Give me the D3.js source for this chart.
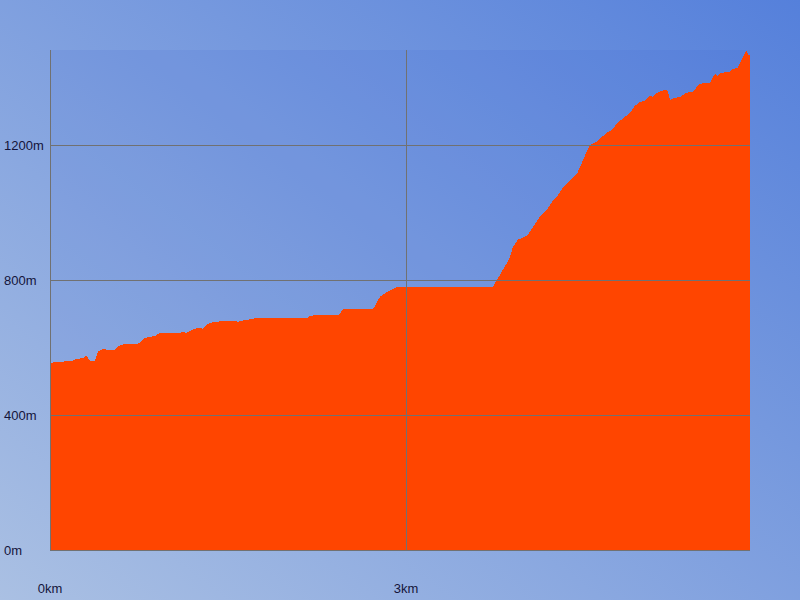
<!DOCTYPE html>
<html>
<head>
<meta charset="utf-8">
<script src="https://cdn.jsdelivr.net/npm/d3@7"></script>
<style>
	html, body { margin: 0; padding: 0; }
	svg { display: block; }
	.tick-label { font-family: "Liberation Sans", Arial, sans-serif; font-size: 13px; fill: #14143a; }
</style>
</head>
<body>
<svg id="chart" width="800" height="600"></svg>
<script>
"use strict";

// distance along the track (km)
var distKm = [
	0.000, 0.059, 0.185, 0.211, 0.278, 0.303, 0.320, 0.337, 0.379, 0.404,
	0.447, 0.480, 0.548, 0.590, 0.632, 0.733, 0.758, 0.801, 0.885, 0.927,
	1.095, 1.121, 1.146, 1.180, 1.222, 1.256, 1.289, 1.315, 1.348, 1.416,
	1.458, 1.559, 1.584, 1.618, 1.652, 1.694, 1.736, 2.166, 2.191, 2.242,
	2.435, 2.452, 2.477, 2.722, 2.739, 2.756, 2.781, 2.806, 2.840, 2.873,
	2.907, 2.932, 3.733, 3.750, 3.767, 3.792, 3.826, 3.851, 3.876, 3.901,
	3.944, 4.028, 4.070, 4.129, 4.188, 4.230, 4.272, 4.323, 4.382, 4.441,
	4.483, 4.517, 4.550, 4.593, 4.652, 4.694, 4.736, 4.769, 4.803, 4.845,
	4.888, 4.930, 4.972, 5.014, 5.056, 5.081, 5.115, 5.157, 5.191, 5.208,
	5.225, 5.258, 5.309, 5.359, 5.418, 5.452, 5.477, 5.562, 5.587, 5.612,
	5.629, 5.646, 5.730, 5.755, 5.797, 5.814, 5.840, 5.857, 5.873, 5.882,
	5.899
];

// elevation (m)
var elevM = [
	554, 557, 560, 564, 569, 575, 569, 560, 560, 587,
	596, 593, 593, 607, 610, 610, 614, 628, 634, 643,
	643, 646, 643, 649, 655, 658, 655, 667, 673, 676,
	679, 679, 676, 679, 681, 684, 687, 687, 693, 696,
	696, 705, 714, 714, 723, 735, 750, 756, 764, 770,
	776, 779, 779, 791, 800, 815, 836, 850, 868, 898,
	919, 933, 957, 987, 1007, 1031, 1046, 1073, 1096, 1114,
	1147, 1176, 1200, 1206, 1224, 1236, 1244, 1259, 1271, 1283,
	1295, 1316, 1327, 1330, 1345, 1342, 1354, 1360, 1363, 1357,
	1333, 1339, 1342, 1354, 1357, 1372, 1381, 1384, 1401, 1410,
	1404, 1413, 1416, 1425, 1428, 1443, 1461, 1473, 1479, 1467,
	1467
];

var xTicks = [0, 3];
var xTickLabels = ["0km", "3km"];
var yTicks = [0, 400, 800, 1200];
var yTickLabels = ["0m", "400m", "800m", "1200m"];

document.addEventListener("DOMContentLoaded", init);

function init() {
	var svg = d3.select("#chart");
	var W = 800, H = 600;
	var left = 50, right = 750, top = 50, bottom = 550;

	var x = d3.scaleLinear().domain([0, d3.max(distKm)]).range([left, right]);
	var y = d3.scaleLinear().domain([0, 1481]).range([bottom, top]);

	var defs = svg.append("defs");
	var bg = defs.append("linearGradient")
	             .attr("id", "bg")
	             .attr("x1", 0).attr("y1", 1)
	             .attr("x2", 1).attr("y2", 0);
	bg.append("stop").attr("offset", "0%").attr("stop-color", "#aac0e3");
	bg.append("stop").attr("offset", "100%").attr("stop-color", "#5580db");

	svg.append("rect")
	   .attr("width", W)
	   .attr("height", H)
	   .attr("fill", "url(#bg)");

	// plot area is a touch darker than the page
	svg.append("rect")
	   .attr("x", left)
	   .attr("y", top)
	   .attr("width", right - left)
	   .attr("height", bottom - top)
	   .attr("fill", "rgba(60,100,215,0.12)");

	var pts = distKm.map((d, i) => [d, elevM[i]]);

	var area = d3.area()
	             .x(d => x(d[0]))
	             .y0(y(0))
	             .y1(d => y(d[1]));

	svg.append("path")
	   .datum(pts)
	   .attr("d", area)
	   .attr("fill", "#ff4500")
	   .attr("shape-rendering", "crispEdges");

	var grid = svg.append("g").attr("shape-rendering", "crispEdges");

	grid.selectAll("line.h")
	    .data(yTicks)
	    .enter()
	    .append("line")
	    .attr("class", "h")
	    .attr("x1", left)
	    .attr("x2", right)
	    .attr("y1", d => Math.round(y(d)) + 0.5)
	    .attr("y2", d => Math.round(y(d)) + 0.5)
	    .attr("stroke", "#717171");

	grid.selectAll("line.v")
	    .data(xTicks)
	    .enter()
	    .append("line")
	    .attr("class", "v")
	    .attr("y1", top)
	    .attr("y2", bottom + 1)
	    .attr("x1", d => Math.round(x(d)) + 0.5)
	    .attr("x2", d => Math.round(x(d)) + 0.5)
	    .attr("stroke", "#717171");

	svg.selectAll("text.ylab")
	   .data(yTicks)
	   .enter()
	   .append("text")
	   .attr("class", "tick-label ylab")
	   .attr("x", 4)
	   .attr("y", d => y(d))
	   .attr("dy", "0.36em")
	   .text((d, i) => yTickLabels[i]);

	svg.selectAll("text.xlab")
	   .data(xTicks)
	   .enter()
	   .append("text")
	   .attr("class", "tick-label xlab")
	   .attr("x", d => x(d))
	   .attr("y", 588)
	   .attr("dy", "0.36em")
	   .attr("text-anchor", "middle")
	   .text((d, i) => xTickLabels[i]);
}
</script>
</body>
</html>
